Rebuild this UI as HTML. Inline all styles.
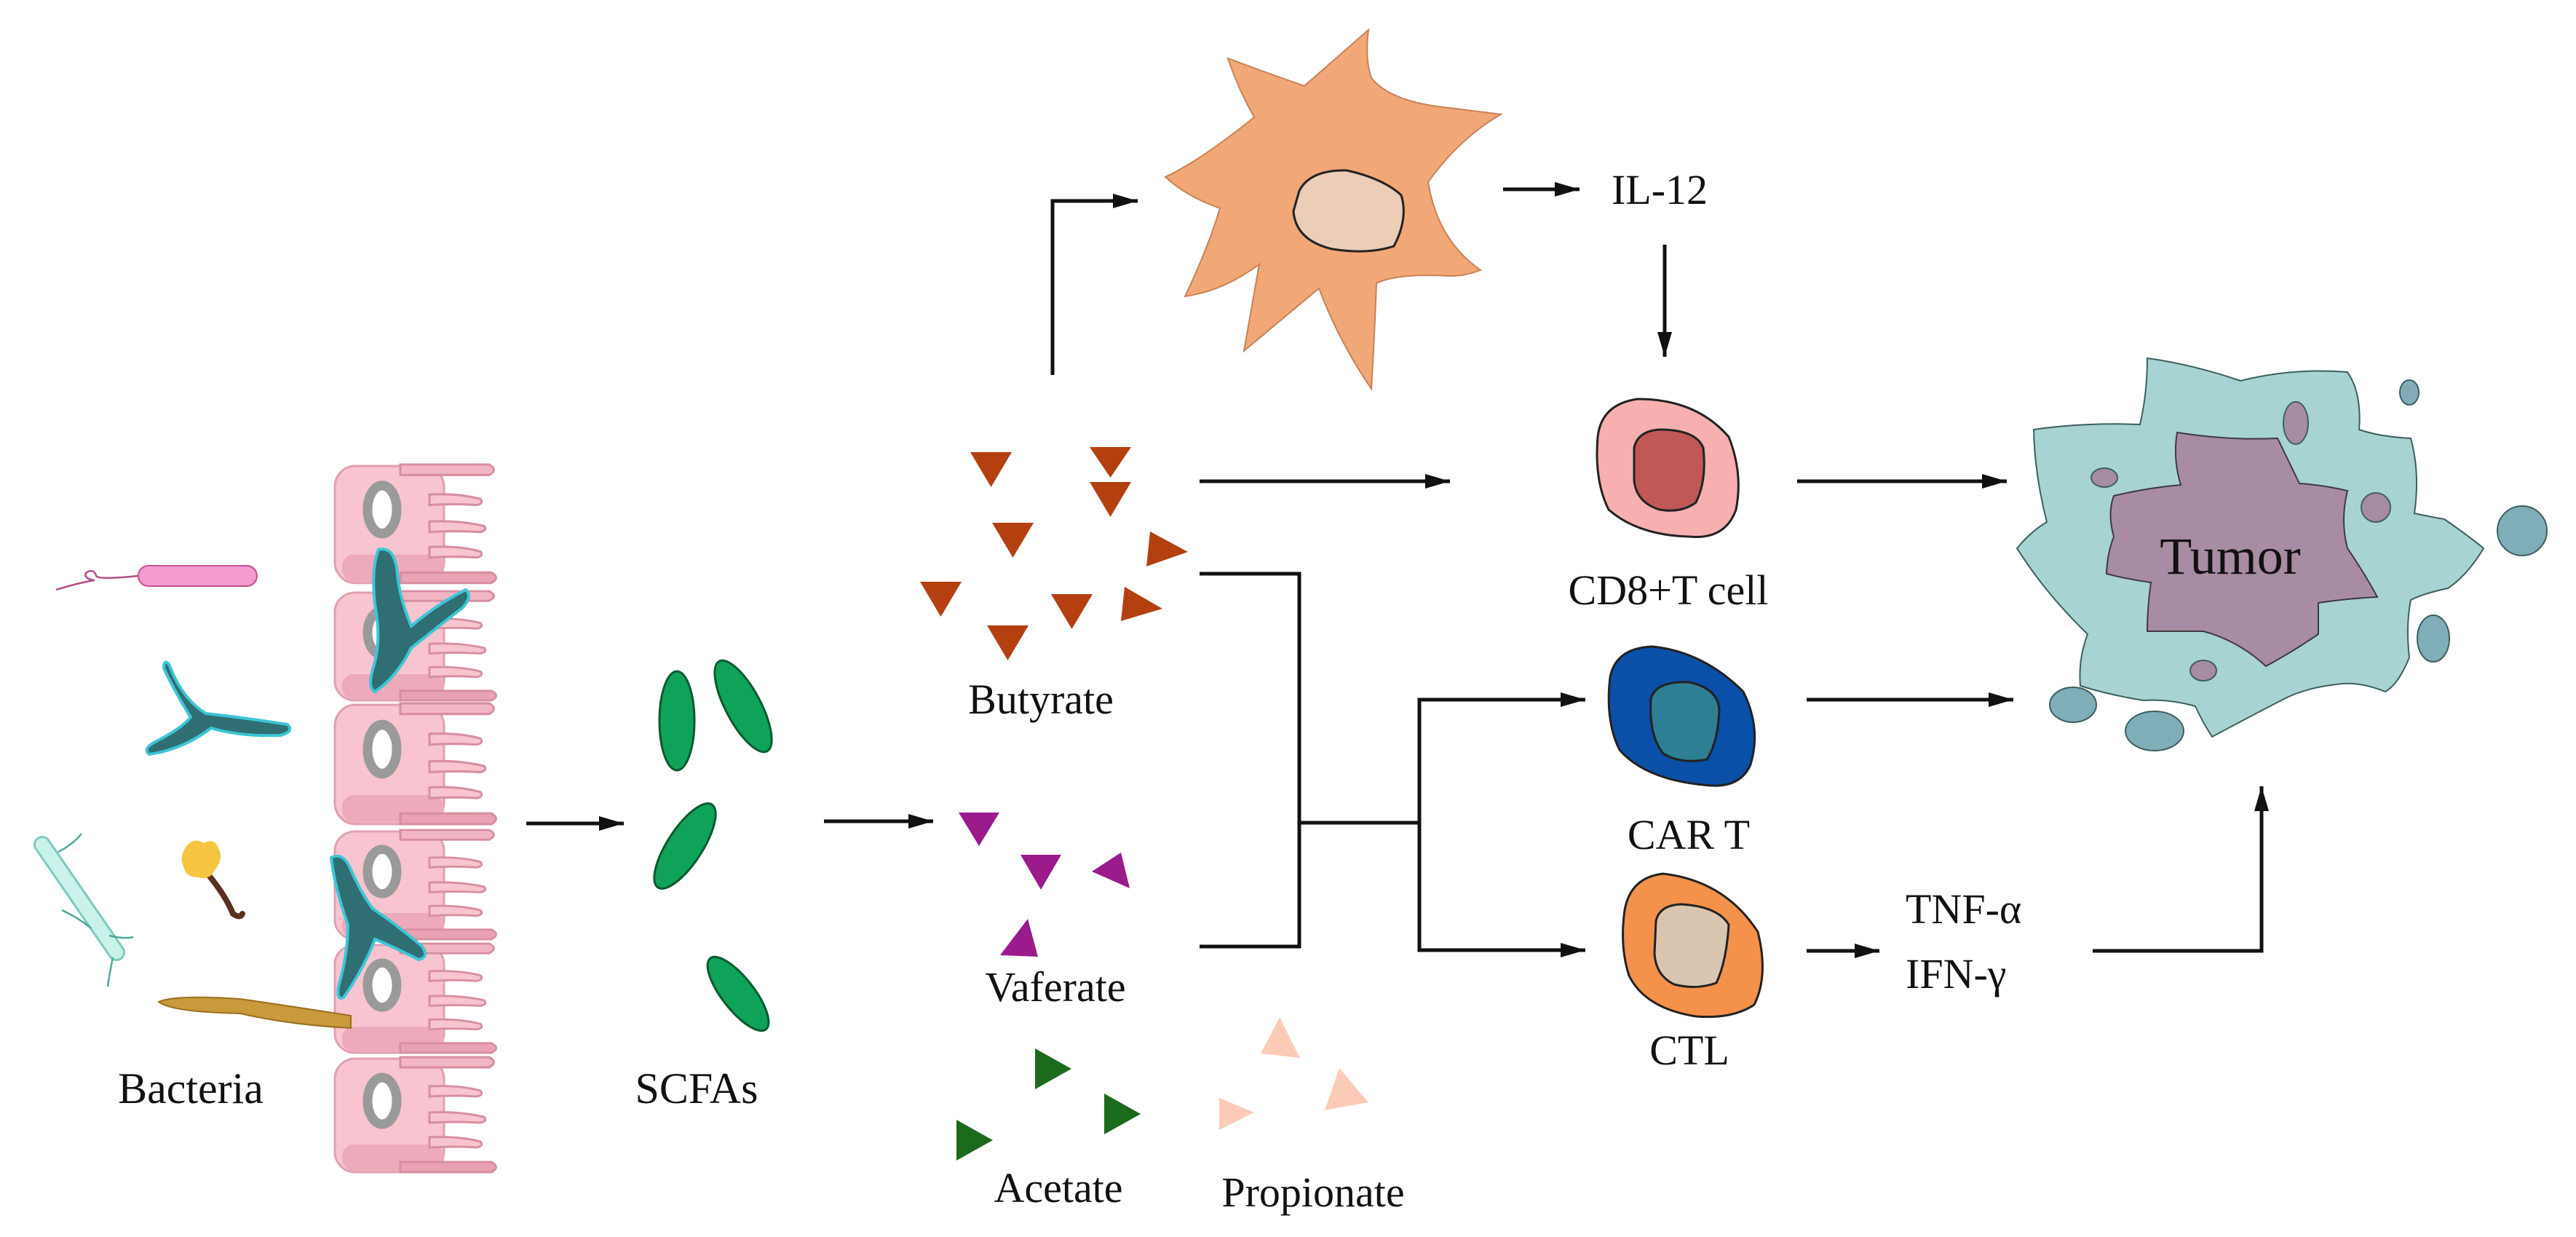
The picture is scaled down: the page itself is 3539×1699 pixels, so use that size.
<!DOCTYPE html>
<html><head><meta charset="utf-8"><style>
html,body{margin:0;padding:0;background:#fff}
svg{display:block}
svg text{font-family:"Liberation Serif","Times New Roman",serif !important;fill:#111}
</style></head><body>
<svg width="3539" height="1699" viewBox="0 0 3539 1699" xmlns="http://www.w3.org/2000/svg" font-family="Liberation Serif, serif">
<defs>
<marker id="a" viewBox="0 0 10 10" refX="10" refY="5" markerWidth="34" markerHeight="20" markerUnits="userSpaceOnUse" orient="auto" preserveAspectRatio="none"><path d="M0,0 L10,5 L0,10 z" fill="#111"/></marker>
<g id="cell">
  <rect x="0" y="2" width="150" height="156" rx="28" fill="#F7C4CF" stroke="#E0A0B0" stroke-width="3"/>
  <rect x="10" y="120" width="140" height="36" rx="16" fill="#EDAABA"/>
  <path d="M90,0 H212 Q225,7 212,14 H90 Z" fill="#F2B5C3" stroke="#D88EA2" stroke-width="3"/>
  <path d="M130,40 Q170,38 200,46 Q205,52 195,54 Q165,52 130,54 Z" fill="#F7C4CF" stroke="#D88EA2" stroke-width="3"/>
  <path d="M130,76 Q170,74 205,82 Q210,88 200,90 Q165,88 130,90 Z" fill="#F7C4CF" stroke="#D88EA2" stroke-width="3"/>
  <path d="M130,110 Q170,108 200,116 Q205,122 195,124 Q165,122 130,124 Z" fill="#F7C4CF" stroke="#D88EA2" stroke-width="3"/>
  <path d="M90,144 H215 Q228,151 215,158 H90 Z" fill="#E9A2B4" stroke="#D88EA2" stroke-width="3"/>
  <ellipse cx="65" cy="60" rx="20" ry="32" fill="#fff" stroke="#9a9a9a" stroke-width="13"/>
</g>
</defs>

<use href="#cell" transform="translate(460,638) scale(1,1.03)"/>
<use href="#cell" transform="translate(460,812) scale(1,0.95)"/>
<use href="#cell" transform="translate(460,966) scale(1,1.05)"/>
<use href="#cell" transform="translate(460,1140) scale(1,0.95)"/>
<use href="#cell" transform="translate(460,1296) scale(1,0.95)"/>
<use href="#cell" transform="translate(460,1452) scale(1,1.0)"/>

<path d="M77,810 Q110,800 130,797 Q115,795 118,787 Q128,780 132,790 Q130,797 190,791" fill="none" stroke="#B0508A" stroke-width="2.5"/>
<rect x="190" y="777" width="163" height="28" rx="14" fill="#F59BD0" stroke="#C0508E" stroke-width="2"/>
<path d="M232,912 Q250,960 283,980 Q330,985 395,995 Q405,1005 385,1010 Q330,1012 290,1000 Q250,1030 205,1036 Q195,1028 215,1018 Q250,1000 262,985 Q240,950 225,918 Q225,905 232,912 Z" fill="#2F6E72" stroke="#3CC6D6" stroke-width="4"/>
<path d="M520,755 Q540,750 545,780 Q548,820 565,860 Q600,830 640,810 Q650,820 635,835 Q590,870 565,890 Q545,930 515,950 Q505,945 512,920 Q525,880 515,830 Q510,780 520,755 Z" fill="#2F6E72" stroke="#3CC6D6" stroke-width="4"/>
<path d="M455,1178 Q470,1170 480,1190 Q495,1225 512,1248 Q545,1270 580,1300 Q590,1315 575,1318 Q540,1300 515,1290 Q500,1330 472,1370 Q462,1375 465,1355 Q478,1310 478,1270 Q460,1220 455,1178 Z" fill="#2F6E72" stroke="#3CC6D6" stroke-width="4"/>
<path d="M58,1160 L160,1308" stroke="#7FC9BE" stroke-width="24" stroke-linecap="round"/>
<path d="M58,1160 L160,1308" stroke="#C8F2EA" stroke-width="18" stroke-linecap="round"/>
<path d="M80,1170 Q100,1160 112,1145 M85,1250 Q110,1262 125,1275 M150,1285 Q170,1290 183,1287 M155,1315 Q150,1340 148,1355" fill="none" stroke="#4FA89A" stroke-width="2.5"/>
<path d="M285,1200 Q310,1230 320,1255 Q330,1262 333,1255" fill="none" stroke="#5A3020" stroke-width="8" stroke-linecap="round"/>
<path d="M258,1160 Q268,1150 280,1158 Q295,1150 300,1165 Q308,1180 295,1195 Q288,1210 272,1205 Q255,1205 252,1190 Q245,1175 258,1160 Z" fill="#F5C542"/>
<path d="M218,1376 Q240,1366 330,1372 Q420,1385 482,1395 L482,1412 Q400,1408 330,1392 Q235,1390 218,1376 Z" fill="#C89A3C" stroke="#9A7020" stroke-width="2"/>
<text font-family="Liberation Serif, serif" x="262" y="1515" font-size="60" text-anchor="middle">Bacteria</text>

<line x1="723" y1="1131" x2="857" y2="1131" stroke="#111" stroke-width="5" marker-end="url(#a)"/>

<g fill="#0FA35A" stroke="#0B5A30" stroke-width="3">
<ellipse cx="930" cy="990" rx="24" ry="68"/>
<ellipse cx="1021" cy="970" rx="24" ry="70" transform="rotate(-28 1021 970)"/>
<ellipse cx="941" cy="1162" rx="24" ry="68" transform="rotate(33 941 1162)"/>
<ellipse cx="1014" cy="1365" rx="22" ry="62" transform="rotate(-38 1014 1365)"/>
</g>
<text font-family="Liberation Serif, serif" x="957" y="1515" font-size="60" text-anchor="middle">SCFAs</text>

<line x1="1132" y1="1128" x2="1282" y2="1128" stroke="#111" stroke-width="5" marker-end="url(#a)"/>

<g fill="#B5400F">
<path d="M1333,621 h57 l-28.5,48 z"/>
<path d="M1497,614 h57 l-28.5,42 z"/>
<path d="M1497,662 h57 l-28.5,48 z"/>
<path d="M1363,718 h57 l-28.5,48 z"/>
<path d="M1264,799 h57 l-28.5,48 z"/>
<path d="M1444,816 h57 l-28.5,48 z"/>
<path d="M1356,859 h57 l-28.5,48 z"/>
<path d="M1580,730 l52,28 l-57,20 z"/>
<path d="M1545,806 l52,30 l-57,17 z"/>
</g>
<text font-family="Liberation Serif, serif" x="1430" y="980" font-size="58" text-anchor="middle">Butyrate</text>

<g fill="#9B1A8C">
<path d="M1317,1116 h56 l-28,46 z"/>
<path d="M1402,1174 h56 l-28,48 z"/>
<path d="M1500,1197 l40,-26 l12,49 z"/>
<path d="M1374,1312 l38,-50 l14,52 z"/>
</g>
<text font-family="Liberation Serif, serif" x="1450" y="1375" font-size="58" text-anchor="middle">Vaferate</text>

<g fill="#1C6B1C">
<path d="M1422,1440 l50,28 l-50,28 z"/>
<path d="M1517,1502 l50,28 l-50,28 z"/>
<path d="M1314,1538 l50,28 l-50,28 z"/>
</g>
<text font-family="Liberation Serif, serif" x="1454" y="1651" font-size="58" text-anchor="middle">Acetate</text>

<g fill="#FCCBB8">
<path d="M1732,1447 l26,-50 l28,56 z"/>
<path d="M1820,1525 l20,-58 l40,47 z"/>
<path d="M1675,1508 l48,20 l-48,24 z"/>
</g>
<text font-family="Liberation Serif, serif" x="1804" y="1657" font-size="58" text-anchor="middle">Propionate</text>

<path d="M1687,80 Q1740,100 1792,118 L1880,41 Q1875,80 1884,107 Q1910,140 1990,148 L2062,157 Q2005,190 1962,250 Q1975,330 2034,371 Q2010,380 1991,379 Q1920,375 1891,389 Q1888,470 1884,534 Q1840,470 1812,396 L1709,482 Q1720,420 1730,363 Q1680,400 1628,407 Q1660,340 1676,286 Q1630,270 1601,243 Q1650,220 1723,161 Q1700,120 1687,80 Z" fill="#F2A776" stroke="#C98256" stroke-width="2"/>
<path d="M1785,262 Q1800,233 1850,234 Q1900,245 1925,268 Q1935,300 1915,338 Q1880,350 1830,342 Q1780,330 1777,290 Z" fill="#EBCDB8" stroke="#222" stroke-width="3"/>

<polyline points="1446,515 1446,276 1563,276" fill="none" stroke="#111" stroke-width="5" marker-end="url(#a)"/>
<line x1="2065" y1="260" x2="2170" y2="260" stroke="#111" stroke-width="5" marker-end="url(#a)"/>
<text font-family="Liberation Serif, serif" x="2280" y="280" font-size="58" text-anchor="middle">IL-12</text>
<line x1="2287" y1="336" x2="2287" y2="490" stroke="#111" stroke-width="5" marker-end="url(#a)"/>

<line x1="1648" y1="661" x2="1992" y2="661" stroke="#111" stroke-width="5" marker-end="url(#a)"/>
<polyline points="1648,788 1785,788 1785,1300 1648,1300" fill="none" stroke="#111" stroke-width="5"/>
<line x1="1785" y1="1130" x2="1950" y2="1130" stroke="#111" stroke-width="5"/>
<polyline points="2175,961 1950,961 1950,1305 2175,1305" fill="none" stroke="#111" stroke-width="5"/>
<line x1="1950" y1="961" x2="2178" y2="961" stroke="#111" stroke-width="5" marker-end="url(#a)"/>
<line x1="1950" y1="1305" x2="2178" y2="1305" stroke="#111" stroke-width="5" marker-end="url(#a)"/>

<path d="M2195,600 Q2200,555 2250,548 Q2330,548 2375,600 Q2395,650 2385,700 Q2370,742 2320,737 Q2250,735 2210,700 Q2190,660 2195,600 Z" fill="#F7AFAF" stroke="#222" stroke-width="3"/>
<path d="M2245,615 Q2250,592 2280,590 Q2330,590 2340,615 Q2345,660 2330,690 Q2310,705 2280,700 Q2248,690 2245,660 Z" fill="#C05858" stroke="#222" stroke-width="3"/>
<text font-family="Liberation Serif, serif" x="2292" y="830" font-size="58" text-anchor="middle">CD8+T cell</text>

<path d="M2212,930 Q2220,890 2270,888 Q2340,895 2395,950 Q2420,1000 2405,1050 Q2390,1085 2340,1078 Q2260,1070 2225,1030 Q2205,990 2212,930 Z" fill="#0A4FA8" stroke="#222" stroke-width="3"/>
<path d="M2268,960 Q2275,935 2320,937 Q2360,945 2362,975 Q2360,1020 2345,1043 Q2310,1050 2285,1035 Q2265,1010 2268,960 Z" fill="#2E7F93" stroke="#222" stroke-width="3"/>
<text font-family="Liberation Serif, serif" x="2320" y="1166" font-size="58" text-anchor="middle">CAR T</text>

<path d="M2232,1250 Q2240,1205 2285,1200 Q2370,1210 2415,1280 Q2430,1340 2410,1380 Q2380,1400 2330,1396 Q2260,1385 2238,1340 Q2225,1300 2232,1250 Z" fill="#F4914A" stroke="#222" stroke-width="3"/>
<path d="M2275,1265 Q2280,1243 2310,1242 Q2360,1245 2375,1270 Q2372,1320 2358,1350 Q2330,1360 2300,1352 Q2275,1340 2273,1310 Z" fill="#D9C6B0" stroke="#222" stroke-width="3"/>
<text font-family="Liberation Serif, serif" x="2321" y="1462" font-size="58" text-anchor="middle">CTL</text>

<line x1="2469" y1="661" x2="2757" y2="661" stroke="#111" stroke-width="5" marker-end="url(#a)"/>
<line x1="2482" y1="961" x2="2766" y2="961" stroke="#111" stroke-width="5" marker-end="url(#a)"/>
<line x1="2482" y1="1306" x2="2582" y2="1306" stroke="#111" stroke-width="5" marker-end="url(#a)"/>
<text font-family="Liberation Serif, serif" x="2618" y="1268" font-size="58">TNF-α</text>
<text font-family="Liberation Serif, serif" x="2618" y="1357" font-size="58">IFN-γ</text>
<polyline points="2875,1306 3107,1306 3107,1080" fill="none" stroke="#111" stroke-width="5" marker-end="url(#a)"/>

<path d="M2950,492 Q3010,500 3078,523 Q3150,505 3225,511 Q3245,540 3241,590 Q3270,600 3312,602 Q3325,650 3317,705 Q3340,710 3358,713 Q3390,735 3412,753 Q3390,790 3363,808 Q3330,815 3312,824 Q3305,860 3310,903 Q3295,940 3277,950 Q3240,935 3210,940 Q3165,945 3134,962 Q3080,990 3039,1012 Q3025,990 3016,970 Q2980,960 2945,962 Q2900,955 2858,942 Q2855,905 2868,871 Q2810,815 2771,753 Q2790,730 2812,717 Q2795,650 2794,590 Q2865,580 2940,583 Q2950,540 2950,492 Z" fill="#A8D3D3" stroke="#3E5F5F" stroke-width="2"/>
<path d="M2991,594 Q3060,605 3129,602 L3159,664 Q3190,666 3225,674 Q3215,715 3225,753 Q3250,790 3266,820 Q3225,822 3185,828 L3185,871 Q3150,895 3113,915 Q3075,880 3027,867 L2950,867 Q2950,835 2955,800 Q2920,795 2894,788 Q2895,760 2904,737 Q2895,705 2904,681 Q2950,670 2996,666 Q2985,630 2991,594 Z" fill="#A88CA3" stroke="#3E3A40" stroke-width="2"/>
<text font-family="Liberation Serif, serif" x="3064" y="788" font-size="72" text-anchor="middle">Tumor</text>
<g fill="#7FAEB8" stroke="#3E5F5F" stroke-width="2">
<ellipse cx="3310" cy="539" rx="13" ry="17"/>
<ellipse cx="3465" cy="729" rx="34" ry="34"/>
<ellipse cx="3343" cy="877" rx="22" ry="32"/>
<ellipse cx="2848" cy="968" rx="32" ry="24"/>
<ellipse cx="2960" cy="1004" rx="40" ry="27"/>
</g>
<g fill="#A88CA3" stroke="#3E5F5F" stroke-width="2">
<ellipse cx="3154" cy="581" rx="17" ry="29"/>
<ellipse cx="2891" cy="656" rx="18" ry="13"/>
<ellipse cx="3264" cy="697" rx="20" ry="20"/>
<ellipse cx="3027" cy="921" rx="18" ry="14"/>
</g>
</svg>
</body></html>
